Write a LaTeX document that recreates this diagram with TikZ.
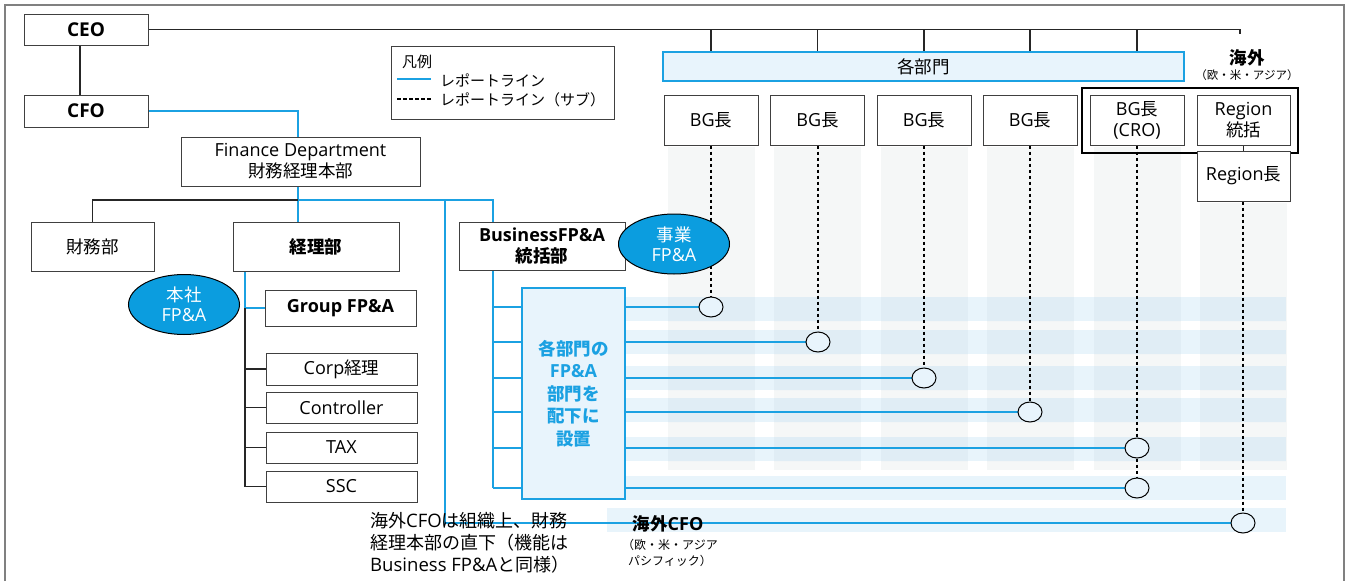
\documentclass[tikz,border=0pt]{standalone}
\usepackage{fontspec}
\setmainfont{Noto Sans CJK JP}
\newfontfamily\lat[Scale=1.03]{Open Sans}
\usetikzlibrary{shapes.geometric}
\definecolor{repc}{HTML}{1BA1E2}
\definecolor{lightb}{HTML}{E8F4FC}
\definecolor{ellb}{HTML}{0B9DDF}
\definecolor{colg}{HTML}{F5F7F7}
\definecolor{bandc}{HTML}{E8F4FB}
\definecolor{interc}{HTML}{E0EDF5}
\definecolor{boxgray}{HTML}{404040}
\definecolor{framegray}{HTML}{808080}
\newcommand{\fs}[2]{\fontsize{#1}{#2}\selectfont}
\pgfdeclarelayer{bg}
\pgfdeclarelayer{lines}
\pgfsetlayers{bg,lines,main}
\begin{document}
\begin{tikzpicture}[x=1pt,y=-1pt,
  box/.style={draw=boxgray, line width=1pt, fill=white, inner sep=0pt, align=center, font=\fs{17.5}{21}},
  wh/.style 2 args={minimum width=#1pt, minimum height=#2pt},
  conn/.style={draw=black!85, line width=1.2pt},
  repline/.style={draw=repc, line width=1.4pt},
  dashline/.style={draw=black, line width=1.1pt, dash pattern=on 3.5pt off 2.5pt},
  circ/.style={ellipse, draw=black, line width=1pt, fill=lightb, minimum width=24pt, minimum height=20pt, inner sep=0pt},
  fpa/.style={ellipse, draw=black, line width=1pt, fill=ellb, text=white, minimum width=111pt, minimum height=60pt, inner sep=0pt, align=center, font=\fs{17.5}{20}}
]
\useasboundingbox (0,0) rectangle (1349,581);
% frame
\draw[draw=framegray, line width=1.5pt] (5,581) -- (5,5) -- (1344,5) -- (1344,581);

% background columns and bands
\begin{pgfonlayer}{bg}
  \foreach \a/\b in {668/755,774/861,881/968,987/1074,1094/1181}
    \fill[colg] (\a,147) rectangle (\b,470);
  \fill[colg] (1200,203) rectangle (1287,470);
  \foreach \a/\b in {297/321,330/354,366/390,398/422,437/461,476/500}
    \fill[bandc] (625,\a) rectangle (1286,\b);
  \fill[bandc] (607,508) rectangle (1286,532);
  \begin{scope}
    \clip (625,297) rectangle (1286,321) (625,330) rectangle (1286,354)
          (625,366) rectangle (1286,390) (625,398) rectangle (1286,422)
          (625,437) rectangle (1286,461);
    \foreach \a/\b in {668/755,774/861,881/968,987/1074,1094/1181,1200/1287}
      \fill[interc] (\a,147) rectangle (\b,470);
  \end{scope}
\end{pgfonlayer}

% top part
\node[box, wh={124}{31}, font=\bfseries\lat\fs{18.5}{21}] (ceo) at (86,29.5) {CEO};
\node[box, wh={124}{32}, font=\bfseries\lat\fs{18.5}{21}] (cfo) at (86,111) {CFO};
\node[box, wh={239}{49}] (fd) at (300.5,161.5) {{\lat Finance Department}\\財務経理本部};

% legend
\node[draw=boxgray, line width=1pt, wh={223}{73}, inner sep=0pt] (legend) at (502.5,82.5) {};
\node[anchor=west, font=\fs{15}{18}, inner sep=0pt] (lgt) at (402,62) {凡例};
\coordinate (l1a) at (397,79);
\coordinate (l1b) at (431,79);
\coordinate (l2a) at (397,99);
\coordinate (l2b) at (431,99);
\node[anchor=west, font=\fs{15}{18}, inner sep=0pt] (lg1) at (440,80) {レポートライン};
\node[anchor=west, font=\fs{15}{18}, inner sep=0pt] (lg2) at (440,100) {レポートライン（サブ）};

% departments bar and BG heads
\node[draw=repc, line width=1.2pt, fill=lightb, wh={521}{29}, inner sep=0pt, font=\fs{17.5}{21}] (bar) at (923.5,66.5) {各部門};
\node[font=\bfseries\fs{17.5}{20}, inner sep=0pt] (kaigai) at (1247,58) {海外};
\node[font=\fs{11.5}{14}, inner sep=0pt] (kaigaisub) at (1247,75) {（欧・米・アジア）};
\node[box, wh={94}{50}] (bg1) at (711,120) {{\lat BG}長};
\node[box, wh={94}{50}] (bg2) at (817.5,120) {{\lat BG}長};
\node[box, wh={94}{50}] (bg3) at (924,120) {{\lat BG}長};
\node[box, wh={94}{50}] (bg4) at (1030,120) {{\lat BG}長};
\node[draw=black, line width=2pt, wh={216}{65}, inner sep=0pt] (ovs) at (1190,120.5) {};
\node[box, wh={94}{50}] (bg5) at (1137,120) {{\lat BG}長\\{\lat (CRO)}};
\node[box, wh={93}{50}] (rt) at (1243.5,120) {{\lat Region}\\統括};
\node[box, wh={93}{50}] (rc) at (1243.5,176) {{\lat Region}長};

% left tree
\node[box, wh={123}{49}] (zaimu) at (92.5,246.5) {財務部};
\node[box, wh={166}{49}, font=\bfseries\fs{17.5}{21}] (keiri) at (316,246.5) {経理部};
\node[box, wh={151}{36}, font=\bfseries\lat\fs{17.5}{21}] (gfpa) at (340.5,308) {Group FP\&A};
\node[box, wh={151}{32}] (corp) at (341.5,369) {{\lat Corp}経理};
\node[box, wh={151}{31}, font=\lat\fs{17.5}{21}] (ctrl) at (341.5,407.5) {Controller};
\node[box, wh={151}{31}, font=\lat\fs{17.5}{21}] (tax) at (341.5,447.5) {TAX};
\node[box, wh={151}{31}, font=\lat\fs{17.5}{21}] (ssc) at (341.5,486.5) {SSC};
\node[fpa] (hq) at (184,304.5) {本社\\{\lat FP\&A}};

% business FP&A
\node[box, wh={166}{48}, font=\bfseries\fs{17.5}{21}] (bfpa) at (542,246) {{\lat BusinessFP\&A}\\統括部};
\node[fpa] (biz) at (674,244) {事業\\{\lat FP\&A}};
\node[draw=repc, line width=1.4pt, fill=lightb, wh={103}{211}, inner sep=0pt, align=center, text=repc, font=\bfseries\fs{17.5}{22.5}] (dept) at (573.5,393.5) {各部門の\\{\lat FP\&A}\\部門を\\配下に\\設置};

% circles
\node[circ] (c1) at (711,307) {};
\node[circ] (c2) at (818,342) {};
\node[circ] (c3) at (924,378) {};
\node[circ] (c4) at (1030,412) {};
\node[circ] (c5) at (1137,448) {};
\node[circ] (c6) at (1137,488) {};
\node[circ] (c7) at (1243,523) {};

% overseas CFO texts
\node[anchor=north west, align=left, inner sep=0pt, font=\fs{18}{22}] (note) at (370,512) {海外{\lat CFO}は組織上、財務\\経理本部の直下（機能は\\{\lat Business FP\&A}と同様）};
\node[font=\bfseries\fs{17.5}{20}, inner sep=0pt] (ocfo) at (668,524) {海外{\lat CFO}};
\node[align=center, inner sep=0pt, font=\fs{12}{16}] (ocfosub) at (670,553) {（欧・米・アジア\\パシフィック）};

% coordinates
\coordinate (kt) at (1240,34);
\coordinate (fdb) at (298,200);
\coordinate (bx) at (493,200);
\coordinate (ox) at (445,200);
\coordinate (kx) at (245,271);

\begin{pgfonlayer}{lines}
  % legend lines
  \draw[repline] (l1a) -- (l1b);
  \draw[dashline] (l2a) -- (l2b);
  % CEO lines
  \draw[conn] ([xshift=-6pt]ceo.south) -- ([xshift=-6pt]cfo.north);
  \draw[conn] (ceo.east) -| (kt);
  \foreach \n in {bg1,bg2,bg3,bg4,bg5}
    \draw[conn] (ceo.east -| \n) -- (bar.north -| \n);
  % CFO to finance dept
  \draw[repline] (cfo.east) -| (fd.north -| fdb);
  \draw[repline] (fd.south -| fdb) -- (fdb) -- (keiri.north -| fdb);
  \draw[conn] (fdb) -| (zaimu.north);
  \draw[repline] (fdb) -- (bx) -- (bx |- c6);
  \foreach \c in {c1,c2,c3,c4,c5,c6}
    \draw[repline] (bx |- \c) -- (\c.west);
  \draw[repline] (ox) -- (ox |- c7) -- (c7.west);
  % keiri tree
  \draw[repline] (kx) -- (kx |- gfpa.west) -- (gfpa.west);
  \draw[conn] (kx |- gfpa.west) -- (kx |- ssc.west) -- (ssc.west);
  \foreach \n in {corp,ctrl,tax}
    \draw[conn] (kx |- \n.west) -- (\n.west);
  % dashed sub report lines
  \draw[dashline] (bg1.south) -- (c1.north);
  \draw[dashline] (bg2.south -| c2) -- (c2.north);
  \draw[dashline] (bg3.south) -- (c3.north);
  \draw[dashline] (bg4.south) -- (c4.north);
  \draw[dashline] (bg5.south) -- (c5.north);
  \draw[dashline] (c5.south) -- (c6.north);
  \draw[dashline] (rc.south -| c7) -- (c7.north);
  \draw[conn] (rt.south) -- (rc.north);
\end{pgfonlayer}
\end{tikzpicture}
\end{document}
